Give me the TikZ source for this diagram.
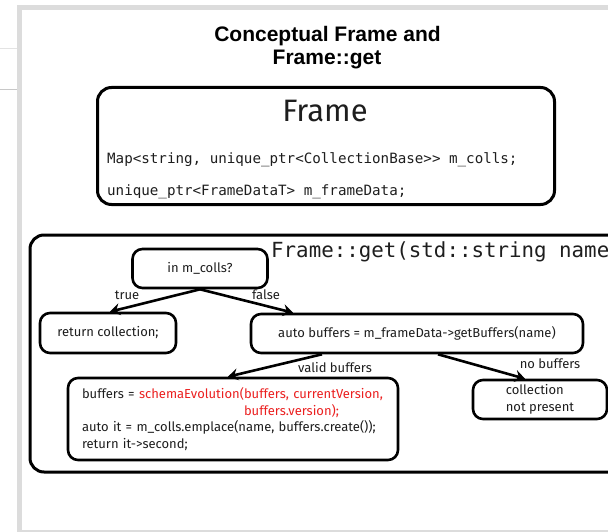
\documentclass[tikz,border=0pt]{standalone}
\usepackage{fontspec}
\setsansfont{Fira Sans}
\setmonofont{DejaVu Sans Mono}
\newfontfamily\headfont{Liberation Sans}
\usetikzlibrary{arrows.meta}

\definecolor{slidegray}{RGB}{220,220,220}
\definecolor{rulegray}{RGB}{200,200,200}
\definecolor{ink}{RGB}{30,30,30}
\definecolor{hired}{RGB}{235,32,32}

\begin{document}
\begin{tikzpicture}[x=1pt,y=-1pt,
  txt/.style={font=\sffamily\fontsize{13}{16.7}\selectfont, text=ink},
  box/.style={txt, draw=black, line width=2.6pt, rounded corners=10pt,
              inner sep=0pt, minimum height=39pt},
  lbl/.style={txt, inner sep=0pt},
  arr/.style={line width=2.6pt, draw=black,
              -{Stealth[length=10pt,width=12pt,inset=3.5pt]}},
  code/.style={font=\ttfamily\fontsize{14.2}{17}\selectfont, text=ink,
               inner sep=0pt, anchor=base west},
  bigbox/.style={draw=black, line width=3pt, rounded corners=14pt, inner sep=0pt}]

% page and slide frame
\useasboundingbox (0,0) rectangle (608,532);
\fill[white] (0,0) rectangle (608,532);
\fill[slidegray] (17,5) rectangle (608,10);
\fill[slidegray] (17,5) rectangle (22,532);
\fill[slidegray] (17,530) rectangle (608,532);
\draw[rulegray!50, line width=0.8pt] (0,48) -- (17,48);
\draw[rulegray, line width=0.8pt] (0,89) -- (17,89);

% heading
\node[font=\headfont\bfseries\fontsize{21}{24}\selectfont, inner sep=0pt, anchor=base]
  (title1) at (327.5,42) {Conceptual Frame and};
\node[font=\headfont\bfseries\fontsize{21}{24}\selectfont, inner sep=0pt, anchor=base]
  (title2) at (327,65) {Frame::get};

% class box
\node[bigbox, minimum width=457pt, minimum height=117pt] (frame) at (326,146) {};
\node[font=\sffamily\fontsize{31}{36}\selectfont, text=ink, inner sep=0pt]
  (framename) at (325,111) {Frame};
\node[code] (colls) at (107,164) {Map<string, unique\_ptr<CollectionBase>{}> m\_colls;};
\node[code] (fdata) at (107,195) {unique\_ptr<FrameDataT> m\_frameData;};

% method box
\node[bigbox, minimum width=595pt, minimum height=237pt] (getbox) at (327.5,353.5) {};
\node[font=\ttfamily\fontsize{20.8}{24}\selectfont, text=ink, inner sep=0pt, anchor=west]
  (sig) at (271,252) {Frame::get(std::string name};

% flow nodes
\node[box, minimum width=135pt] (inm) at (200,268.5) {in m\_colls?};
\node[box, minimum width=136pt, minimum height=40pt] (ret) at (108,333) {return collection;};
\node[box, minimum width=332pt] (buf) at (417,333.5) {auto buffers = m\_frameData->getBuffers(name)};
\node[box, minimum width=330pt, minimum height=82pt, text width=302pt, align=left]
  (big) at (233,419) {buffers = \textcolor{hired}{schemaEvolution(buffers, currentVersion,}\\
  \phantom{buffers = schemaEvolution(}\textcolor{hired}{buffers.version);}\\
  auto it = m\_colls.emplace(name, buffers.create());\\
  return it->second;};
\node[box, minimum width=134pt, align=left] (coll) at (540,399.5) {collection\\not present};

% connectors
\draw[arr] (inm.south) -- ([xshift=2pt]ret.north);
\draw[arr] (inm.south) -- ([xshift=-124pt]buf.north);
\draw[arr] ([xshift=-95pt]buf.south) -- ([xshift=-5pt]big.north);
\draw[arr] ([xshift=21pt]buf.south) -- ([xshift=-15pt]coll.north);

% connector labels
\node[lbl] (ltrue) at (127,295) {true};
\node[lbl] (lfalse) at (266,295) {false};
\node[lbl] (lvalid) at (335,368) {valid buffers};
\node[lbl] (lnone) at (550,364) {no buffers};
\end{tikzpicture}
\end{document}
